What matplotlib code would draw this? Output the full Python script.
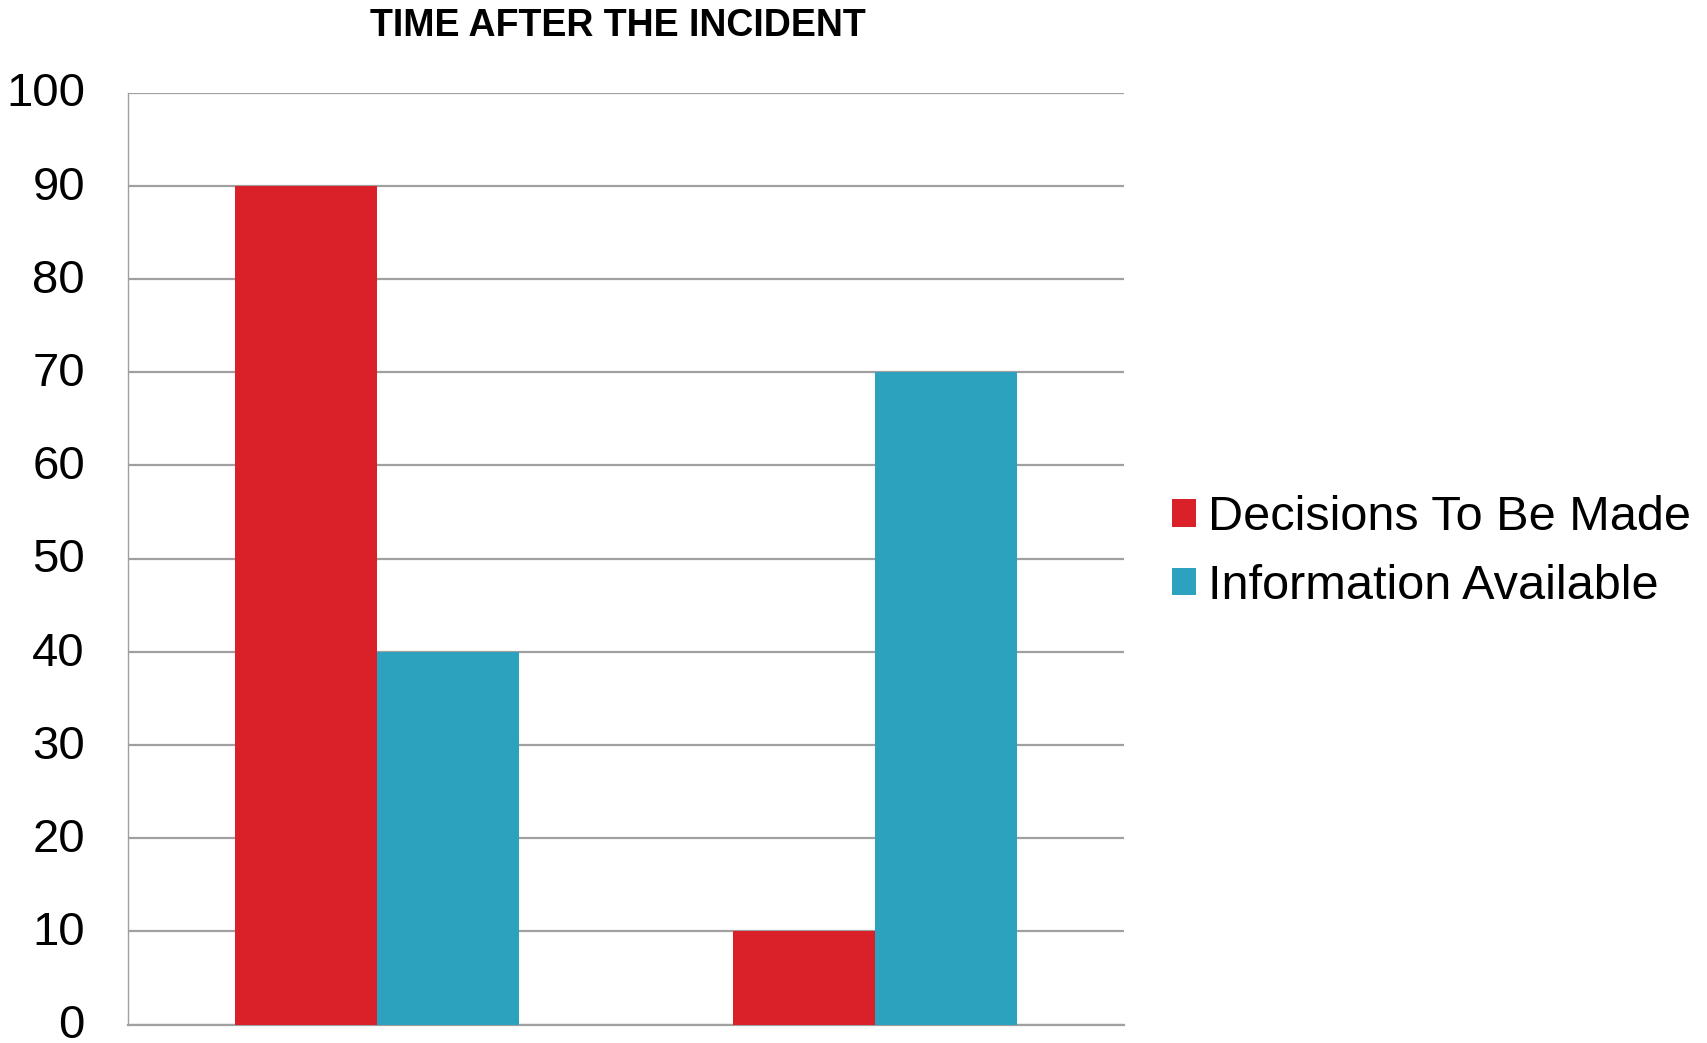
import matplotlib
matplotlib.use("Agg")
import matplotlib.pyplot as plt
import matplotlib.transforms as mtransforms
import numpy as np

# data
categories = ["Early", "Later"]
decisions = [90, 10]
information = [40, 70]
series_names = ["Decisions To Be Made", "Information Available"]
title = "TIME AFTER THE INCIDENT"

plt.rcParams['font.family'] = ['Liberation Sans', 'DejaVu Sans']

fig = plt.figure(figsize=(17.07, 10.43), dpi=100)
ax = fig.add_axes([128 / 1707, 1 - 1024.5 / 1043, 996 / 1707, 932 / 1043])

x = np.arange(len(categories))
w = 0.285
ax.bar(x - w / 2, decisions, w, color="#DA2029", label=series_names[0], zorder=3)
ax.bar(x + w / 2, information, w, color="#2CA2BF", label=series_names[1], zorder=3)

ax.set_xlim(-0.5, 1.5)
ax.set_ylim(0, 100)
ax.set_yticks(range(0, 101, 10))
ax.set_xticks([])
ax.tick_params(axis='y', labelsize=34, length=0, pad=31)

# nudge the tick labels up a little, like the original
shift = mtransforms.ScaledTranslation(0, 3 / 100, fig.dpi_scale_trans)
for lbl in ax.get_yticklabels():
    lbl.set_transform(lbl.get_transform() + shift)

ax.yaxis.grid(True, color="#A0A0A0", linewidth=1.6, zorder=0)
for s in ["top", "right"]:
    ax.spines[s].set_visible(False)
ax.spines["left"].set_color("#A0A0A0")
ax.spines["left"].set_linewidth(1.0)
ax.spines["bottom"].set_color("#A0A0A0")
ax.spines["bottom"].set_linewidth(1.6)

fig.text(618 / 1707, 1 - 26 / 1043, title, ha='center', va='center',
         fontsize=27, fontweight='bold')

ax.legend(loc='center left', bbox_to_anchor=(1172 / 1707, 1 - 552 / 1043),
          bbox_transform=fig.transFigure, frameon=False, fontsize=35,
          handlelength=0.5, handleheight=0.5, handletextpad=0.25, labelspacing=0.48,
          borderaxespad=0, borderpad=0)

fig.savefig("out.png", dpi=100)
